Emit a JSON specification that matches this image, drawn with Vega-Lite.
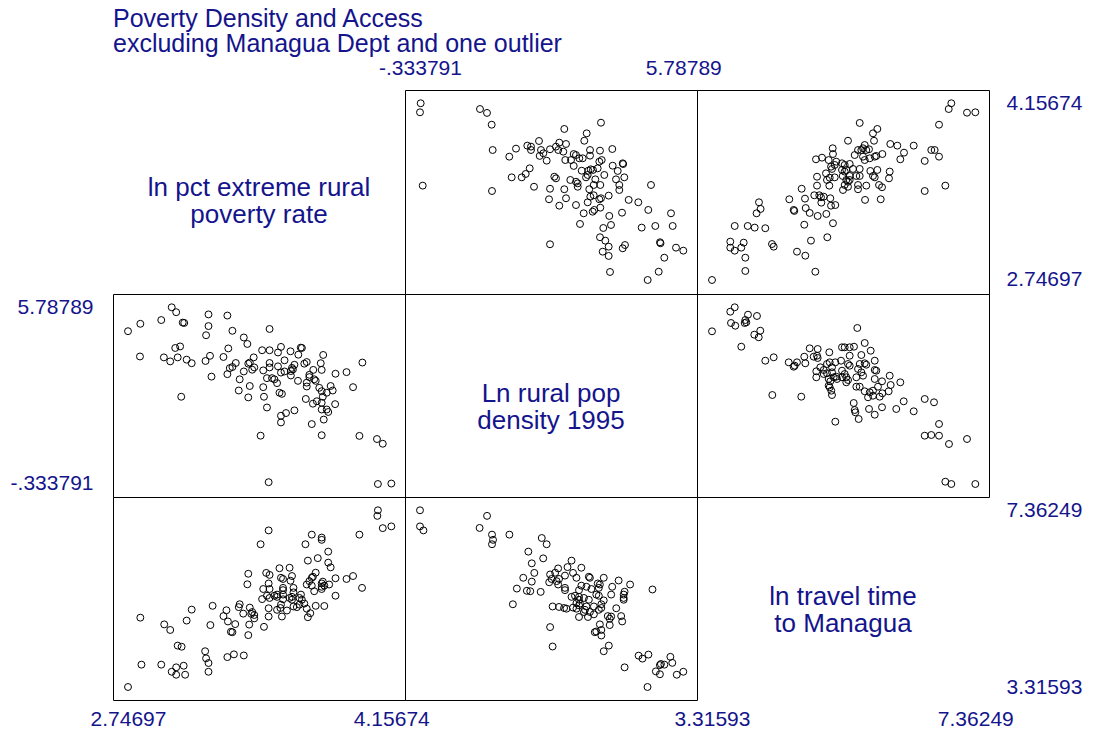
{
"$schema": "https://vega.github.io/schema/vega-lite/v6.json",
"autosize": "none",
"padding": {"left": 113, "top": 90, "right": 980, "bottom": 645},
"background": "white",
"title": {"text": ["Poverty Density and Access", "excluding Managua Dept and one outlier"], "anchor": "start", "frame": "group", "font": "Liberation Sans", "fontSize": 25, "fontWeight": "normal", "color": "#14148c", "lineHeight": 25, "offset": 0},
"config": {
  "view": {"stroke": null},
  "axis": {"domain": false, "ticks": false, "grid": false, "labelFont": "Liberation Sans", "labelFontSize": 21, "labelColor": "#14148c", "labelFlush": false, "labelOverlap": false},
  "point": {"shape": "circle", "filled": false, "color": "black", "strokeWidth": 1, "size": 48, "opacity": 1},
  "text": {"font": "Liberation Sans", "fontSize": 26, "color": "#14148c", "lineHeight": 27, "align": "center", "baseline": "middle"}
},
"datasets": {
  "ab": [
    {"dens": -0.318, "pov": 4.157}, {"dens": -0.334, "pov": 4.085}, {"dens": -0.271, "pov": 3.500}, {"dens": 1.061, "pov": 4.111},
    {"dens": 1.224, "pov": 4.080}, {"dens": 1.333, "pov": 3.986}, {"dens": 1.356, "pov": 3.784}, {"dens": 1.340, "pov": 3.457},
    {"dens": 1.898, "pov": 3.795}, {"dens": 1.742, "pov": 3.731}, {"dens": 2.161, "pov": 3.819}, {"dens": 2.247, "pov": 3.811},
    {"dens": 2.247, "pov": 3.784}, {"dens": 2.433, "pov": 3.856}, {"dens": 2.479, "pov": 3.784}, {"dens": 2.533, "pov": 3.758},
    {"dens": 2.449, "pov": 3.737}, {"dens": 2.612, "pov": 3.699}, {"dens": 2.217, "pov": 3.638}, {"dens": 2.124, "pov": 3.593},
    {"dens": 2.031, "pov": 3.566}, {"dens": 1.798, "pov": 3.566}, {"dens": 2.317, "pov": 3.491}, {"dens": 2.689, "pov": 3.790},
    {"dens": 2.689, "pov": 3.475}, {"dens": 2.666, "pov": 3.391}, {"dens": 2.689, "pov": 3.032}, {"dens": 3.874, "pov": 4.002},
    {"dens": 3.021, "pov": 3.952}, {"dens": 3.542, "pov": 3.917}, {"dens": 3.486, "pov": 3.858}, {"dens": 2.905, "pov": 3.843},
    {"dens": 3.061, "pov": 3.832}, {"dens": 2.828, "pov": 3.811}, {"dens": 2.881, "pov": 3.784}, {"dens": 2.998, "pov": 3.771},
    {"dens": 3.619, "pov": 3.784}, {"dens": 3.851, "pov": 3.779}, {"dens": 4.137, "pov": 3.792}, {"dens": 3.240, "pov": 3.752},
    {"dens": 3.293, "pov": 3.744}, {"dens": 3.370, "pov": 3.718}, {"dens": 3.449, "pov": 3.718}, {"dens": 3.044, "pov": 3.704},
    {"dens": 3.177, "pov": 3.704}, {"dens": 3.619, "pov": 3.739}, {"dens": 3.835, "pov": 3.691}, {"dens": 3.891, "pov": 3.704},
    {"dens": 4.146, "pov": 3.659}, {"dens": 4.379, "pov": 3.678}, {"dens": 4.390, "pov": 3.672}, {"dens": 3.240, "pov": 3.657},
    {"dens": 3.426, "pov": 3.619}, {"dens": 3.579, "pov": 3.619}, {"dens": 3.635, "pov": 3.630}, {"dens": 3.688, "pov": 3.625},
    {"dens": 3.797, "pov": 3.638}, {"dens": 3.951, "pov": 3.585}, {"dens": 4.263, "pov": 3.617}, {"dens": 4.416, "pov": 3.566},
    {"dens": 4.223, "pov": 3.550}, {"dens": 2.789, "pov": 3.571}, {"dens": 2.828, "pov": 3.558}, {"dens": 3.161, "pov": 3.545},
    {"dens": 3.293, "pov": 3.531}, {"dens": 3.333, "pov": 3.518}, {"dens": 3.526, "pov": 3.566}, {"dens": 3.565, "pov": 3.585},
    {"dens": 3.742, "pov": 3.550}, {"dens": 3.705, "pov": 3.505}, {"dens": 3.858, "pov": 3.505}, {"dens": 3.021, "pov": 3.471},
    {"dens": 3.333, "pov": 3.491}, {"dens": 3.602, "pov": 3.471}, {"dens": 4.300, "pov": 3.505}, {"dens": 4.300, "pov": 3.465},
    {"dens": 5.037, "pov": 3.505}, {"dens": 3.061, "pov": 3.399}, {"dens": 2.905, "pov": 3.340}, {"dens": 3.626, "pov": 3.412},
    {"dens": 3.705, "pov": 3.423}, {"dens": 3.835, "pov": 3.391}, {"dens": 3.874, "pov": 3.399}, {"dens": 4.053, "pov": 3.420},
    {"dens": 3.293, "pov": 3.345}, {"dens": 3.565, "pov": 3.367}, {"dens": 3.858, "pov": 3.324}, {"dens": 3.719, "pov": 3.306},
    {"dens": 3.681, "pov": 3.292}, {"dens": 3.472, "pov": 3.279}, {"dens": 4.518, "pov": 3.386}, {"dens": 4.742, "pov": 3.367},
    {"dens": 4.974, "pov": 3.306}, {"dens": 4.363, "pov": 3.284}, {"dens": 4.067, "pov": 3.258}, {"dens": 3.386, "pov": 3.194},
    {"dens": 4.107, "pov": 3.186}, {"dens": 3.928, "pov": 3.162}, {"dens": 4.820, "pov": 3.165}, {"dens": 5.137, "pov": 3.178},
    {"dens": 5.502, "pov": 3.279}, {"dens": 5.541, "pov": 3.178}, {"dens": 3.851, "pov": 3.088}, {"dens": 3.974, "pov": 3.061},
    {"dens": 4.053, "pov": 3.013}, {"dens": 4.432, "pov": 3.026}, {"dens": 4.379, "pov": 3.000}, {"dens": 5.246, "pov": 3.048},
    {"dens": 5.258, "pov": 3.040}, {"dens": 3.914, "pov": 2.973}, {"dens": 4.053, "pov": 2.939}, {"dens": 5.618, "pov": 3.005},
    {"dens": 5.788, "pov": 2.981}, {"dens": 5.346, "pov": 2.925}, {"dens": 4.084, "pov": 2.811}, {"dens": 5.216, "pov": 2.813},
    {"dens": 4.960, "pov": 2.747}
  ],
  "ac": [
    {"trav": 3.316, "pov": 2.747}, {"trav": 3.828, "pov": 2.819}, {"trav": 3.828, "pov": 2.925}, {"trav": 3.597, "pov": 3.053},
    {"trav": 3.597, "pov": 3.005}, {"trav": 3.665, "pov": 2.981}, {"trav": 3.766, "pov": 3.005}, {"trav": 3.803, "pov": 3.045},
    {"trav": 3.665, "pov": 3.178}, {"trav": 3.865, "pov": 3.178}, {"trav": 3.972, "pov": 3.165}, {"trav": 4.135, "pov": 3.160},
    {"trav": 4.238, "pov": 3.034}, {"trav": 4.264, "pov": 3.013}, {"trav": 4.001, "pov": 3.279}, {"trav": 4.063, "pov": 3.314},
    {"trav": 4.038, "pov": 3.367}, {"trav": 4.504, "pov": 3.391}, {"trav": 4.571, "pov": 3.306}, {"trav": 4.581, "pov": 3.298},
    {"trav": 4.622, "pov": 2.973}, {"trav": 4.750, "pov": 2.941}, {"trav": 4.904, "pov": 2.813}, {"trav": 4.837, "pov": 3.061},
    {"trav": 4.734, "pov": 3.188}, {"trav": 4.694, "pov": 3.475}, {"trav": 4.745, "pov": 3.396}, {"trav": 4.756, "pov": 3.321},
    {"trav": 4.817, "pov": 3.282}, {"trav": 4.888, "pov": 3.423}, {"trav": 4.965, "pov": 3.423}, {"trav": 4.991, "pov": 3.407},
    {"trav": 5.033, "pov": 3.412}, {"trav": 4.996, "pov": 3.364}, {"trav": 4.940, "pov": 3.258}, {"trav": 5.073, "pov": 3.274},
    {"trav": 5.175, "pov": 3.200}, {"trav": 5.088, "pov": 3.088}, {"trav": 5.134, "pov": 3.399}, {"trav": 5.145, "pov": 3.340},
    {"trav": 5.211, "pov": 3.345}, {"trav": 4.930, "pov": 3.500}, {"trav": 4.930, "pov": 3.571}, {"trav": 5.068, "pov": 3.598},
    {"trav": 5.083, "pov": 3.545}, {"trav": 5.119, "pov": 3.500}, {"trav": 5.125, "pov": 3.563}, {"trav": 5.202, "pov": 3.566},
    {"trav": 4.914, "pov": 3.710}, {"trav": 5.006, "pov": 3.723}, {"trav": 5.109, "pov": 3.704}, {"trav": 5.160, "pov": 3.633},
    {"trav": 5.145, "pov": 3.651}, {"trav": 5.171, "pov": 3.798}, {"trav": 5.175, "pov": 3.752}, {"trav": 5.226, "pov": 3.691},
    {"trav": 5.202, "pov": 3.665}, {"trav": 5.314, "pov": 3.678}, {"trav": 5.314, "pov": 3.625}, {"trav": 5.325, "pov": 3.577},
    {"trav": 6.994, "pov": 4.157}, {"trav": 6.954, "pov": 4.111}, {"trav": 7.235, "pov": 4.082}, {"trav": 7.363, "pov": 4.085},
    {"trav": 6.805, "pov": 3.986}, {"trav": 5.586, "pov": 4.000}, {"trav": 5.857, "pov": 3.952}, {"trav": 5.790, "pov": 3.917},
    {"trav": 5.806, "pov": 3.858}, {"trav": 5.406, "pov": 3.858}, {"trav": 6.056, "pov": 3.832}, {"trav": 6.164, "pov": 3.819},
    {"trav": 6.416, "pov": 3.819}, {"trav": 6.267, "pov": 3.763}, {"trav": 6.210, "pov": 3.710}, {"trav": 5.934, "pov": 3.752},
    {"trav": 6.686, "pov": 3.784}, {"trav": 6.738, "pov": 3.784}, {"trav": 6.805, "pov": 3.731}, {"trav": 6.585, "pov": 3.697},
    {"trav": 5.560, "pov": 3.784}, {"trav": 5.611, "pov": 3.784}, {"trav": 5.637, "pov": 3.798}, {"trav": 5.687, "pov": 3.784},
    {"trav": 5.729, "pov": 3.790}, {"trav": 5.663, "pov": 3.824}, {"trav": 5.509, "pov": 3.744}, {"trav": 5.637, "pov": 3.731},
    {"trav": 5.663, "pov": 3.704}, {"trav": 5.740, "pov": 3.718}, {"trav": 5.817, "pov": 3.731}, {"trav": 5.841, "pov": 3.737},
    {"trav": 5.355, "pov": 3.665}, {"trav": 5.432, "pov": 3.673}, {"trav": 5.483, "pov": 3.633}, {"trav": 5.586, "pov": 3.633},
    {"trav": 5.355, "pov": 3.612}, {"trav": 5.380, "pov": 3.625}, {"trav": 5.432, "pov": 3.577}, {"trav": 5.534, "pov": 3.577},
    {"trav": 5.586, "pov": 3.577}, {"trav": 5.749, "pov": 3.617}, {"trav": 5.857, "pov": 3.625}, {"trav": 5.790, "pov": 3.577},
    {"trav": 5.817, "pov": 3.566}, {"trav": 6.047, "pov": 3.612}, {"trav": 6.036, "pov": 3.558}, {"trav": 5.380, "pov": 3.545},
    {"trav": 5.406, "pov": 3.531}, {"trav": 5.432, "pov": 3.545}, {"trav": 5.355, "pov": 3.505}, {"trav": 5.406, "pov": 3.491},
    {"trav": 5.560, "pov": 3.505}, {"trav": 5.560, "pov": 3.471}, {"trav": 5.687, "pov": 3.500}, {"trav": 5.883, "pov": 3.505},
    {"trav": 5.929, "pov": 3.487}, {"trav": 5.329, "pov": 3.465}, {"trav": 5.668, "pov": 3.386}, {"trav": 5.909, "pov": 3.391},
    {"trav": 6.585, "pov": 3.457}, {"trav": 6.902, "pov": 3.500}
  ],
  "bc": [
    {"trav": 3.316, "dens": 4.956}, {"trav": 3.665, "dens": 5.788}, {"trav": 3.597, "dens": 5.636}, {"trav": 3.608, "dens": 5.244},
    {"trav": 3.674, "dens": 5.150}, {"trav": 3.869, "dens": 5.532}, {"trav": 3.828, "dens": 5.348}, {"trav": 3.818, "dens": 5.244},
    {"trav": 3.843, "dens": 5.268}, {"trav": 4.007, "dens": 5.487}, {"trav": 4.058, "dens": 4.977}, {"trav": 3.966, "dens": 4.839},
    {"trav": 4.034, "dens": 4.749}, {"trav": 3.766, "dens": 4.423}, {"trav": 4.135, "dens": 3.938}, {"trav": 4.264, "dens": 4.056},
    {"trav": 4.243, "dens": 2.749}, {"trav": 4.688, "dens": 2.691}, {"trav": 4.495, "dens": 3.882}, {"trav": 4.571, "dens": 3.730},
    {"trav": 4.587, "dens": 3.765}, {"trav": 4.622, "dens": 3.882}, {"trav": 4.734, "dens": 4.077}, {"trav": 4.750, "dens": 3.848},
    {"trav": 4.817, "dens": 4.367}, {"trav": 4.879, "dens": 4.077}, {"trav": 4.930, "dens": 4.111}, {"trav": 4.940, "dens": 4.032},
    {"trav": 4.940, "dens": 4.343}, {"trav": 5.119, "dens": 4.229}, {"trav": 5.314, "dens": 4.402}, {"trav": 5.083, "dens": 3.824},
    {"trav": 5.125, "dens": 3.882}, {"trav": 5.211, "dens": 3.882}, {"trav": 4.919, "dens": 3.571}, {"trav": 4.919, "dens": 3.363},
    {"trav": 4.980, "dens": 3.709}, {"trav": 5.033, "dens": 3.616}, {"trav": 5.033, "dens": 3.477}, {"trav": 5.083, "dens": 3.502},
    {"trav": 5.160, "dens": 3.709}, {"trav": 5.160, "dens": 3.536}, {"trav": 5.186, "dens": 3.363}, {"trav": 5.226, "dens": 3.384},
    {"trav": 5.237, "dens": 3.304}, {"trav": 5.109, "dens": 3.304}, {"trav": 5.134, "dens": 3.224}, {"trav": 5.109, "dens": 3.072},
    {"trav": 5.125, "dens": 3.016}, {"trav": 5.149, "dens": 2.899}, {"trav": 5.160, "dens": 2.749}, {"trav": 5.211, "dens": 1.825},
    {"trav": 5.299, "dens": 3.938}, {"trav": 5.314, "dens": 3.592}, {"trav": 5.314, "dens": 3.363}, {"trav": 5.549, "dens": 5.071},
    {"trav": 5.663, "dens": 4.551}, {"trav": 5.755, "dens": 4.284}, {"trav": 5.355, "dens": 4.402}, {"trav": 5.432, "dens": 4.402},
    {"trav": 5.498, "dens": 4.423}, {"trav": 5.432, "dens": 4.111}, {"trav": 5.611, "dens": 4.135}, {"trav": 5.817, "dens": 3.938},
    {"trav": 5.406, "dens": 3.824}, {"trav": 5.432, "dens": 3.765}, {"trav": 5.586, "dens": 3.824}, {"trav": 5.663, "dens": 3.848},
    {"trav": 5.687, "dens": 3.799}, {"trav": 5.560, "dens": 3.651}, {"trav": 5.611, "dens": 3.536}, {"trav": 5.817, "dens": 3.616},
    {"trav": 5.841, "dens": 3.592}, {"trav": 5.355, "dens": 3.477}, {"trav": 5.380, "dens": 3.363}, {"trav": 5.406, "dens": 3.269},
    {"trav": 5.380, "dens": 3.189}, {"trav": 5.534, "dens": 3.363}, {"trav": 5.637, "dens": 3.418}, {"trav": 5.817, "dens": 3.304},
    {"trav": 5.929, "dens": 3.224}, {"trav": 6.047, "dens": 3.418}, {"trav": 6.062, "dens": 3.096}, {"trav": 6.031, "dens": 2.878},
    {"trav": 6.210, "dens": 3.189}, {"trav": 5.534, "dens": 3.037}, {"trav": 5.586, "dens": 3.037}, {"trav": 5.663, "dens": 2.878},
    {"trav": 5.740, "dens": 2.843}, {"trav": 5.790, "dens": 2.899}, {"trav": 5.867, "dens": 3.037}, {"trav": 5.714, "dens": 2.670},
    {"trav": 5.790, "dens": 2.725}, {"trav": 5.893, "dens": 2.691}, {"trav": 5.934, "dens": 2.809}, {"trav": 5.494, "dens": 2.472},
    {"trav": 5.509, "dens": 2.230}, {"trav": 5.519, "dens": 2.150}, {"trav": 5.570, "dens": 1.918}, {"trav": 5.729, "dens": 2.265},
    {"trav": 5.817, "dens": 2.067}, {"trav": 5.929, "dens": 2.324}, {"trav": 6.148, "dens": 2.265}, {"trav": 6.262, "dens": 2.531},
    {"trav": 6.416, "dens": 2.185}, {"trav": 6.585, "dens": 2.611}, {"trav": 6.728, "dens": 2.497}, {"trav": 6.805, "dens": 1.745},
    {"trav": 6.585, "dens": 1.340}, {"trav": 6.686, "dens": 1.364}, {"trav": 6.805, "dens": 1.340}, {"trav": 6.958, "dens": 1.052},
    {"trav": 7.235, "dens": 1.225}, {"trav": 6.902, "dens": -0.254}, {"trav": 6.994, "dens": -0.334}, {"trav": 7.363, "dens": -0.334}
  ],
  "labA": [{"label": ["ln pct extreme rural", "poverty rate"]}],
  "labB": [{"label": ["Ln rural pop", "density 1995"]}],
  "labC": [{"label": ["ln travel time", "to Managua"]}]
},
"columns": 3,
"spacing": 0,
"bounds": "flush",
"concat": [
    {"width": 292, "height": 204, "data": {"name": "labA"},
     "mark": {"type": "text", "dy": -4},
     "encoding": {
       "x": {"datum": 3.44838, "type": "quantitative", "scale": {"domain": [2.66666, 4.23009], "nice": false, "zero": false}, "axis": null},
       "y": {"datum": 3.44906, "type": "quantitative", "scale": {"domain": [2.63527, 4.26285], "nice": false, "zero": false}, "axis": null},
       "text": {"field": "label"}}},
    {"width": 292, "height": 204, "data": {"name": "ab"}, "view": {"stroke": "black"},
     "mark": "point",
     "encoding": {
       "x": {"field": "dens", "type": "quantitative", "scale": {"domain": [-0.68254, 6.10642], "nice": false, "zero": false},
             "axis": {"orient": "top", "values": [-0.333791, 5.78789], "labelExpr": "datum.value < 0 ? '-.333791' : '5.78789'", "labelPadding": 12, "title": null}},
       "y": {"field": "pov", "type": "quantitative", "scale": {"domain": [2.63527, 4.26285], "nice": false, "zero": false}, "axis": null}}},
    {"width": 292, "height": 204, "data": {"name": "ac"}, "view": {"stroke": "black"},
     "mark": "point",
     "encoding": {
       "x": {"field": "trav", "type": "quantitative", "scale": {"domain": [3.08539, 7.57305], "nice": false, "zero": false}, "axis": null},
       "y": {"field": "pov", "type": "quantitative", "scale": {"domain": [2.63527, 4.26285], "nice": false, "zero": false},
             "axis": {"orient": "right", "values": [2.74697, 4.15674], "labelExpr": "format(datum.value, '.6~g')", "labelPadding": 17, "title": null}}}},
    {"width": 292, "height": 203, "data": {"name": "ab"}, "view": {"stroke": "black"},
     "mark": "point",
     "encoding": {
       "x": {"field": "pov", "type": "quantitative", "scale": {"domain": [2.66666, 4.23009], "nice": false, "zero": false}, "axis": null},
       "y": {"field": "dens", "type": "quantitative", "scale": {"domain": [-0.78418, 6.24867], "nice": false, "zero": false},
             "axis": {"orient": "left", "values": [-0.333791, 5.78789], "labelExpr": "datum.value < 0 ? '-.333791' : '5.78789'", "labelPadding": 20, "title": null}}}},
    {"width": 292, "height": 203, "data": {"name": "labB"},
     "mark": {"type": "text", "dy": -1},
     "encoding": {
       "x": {"datum": 2.71194, "type": "quantitative", "scale": {"domain": [-0.68254, 6.10642], "nice": false, "zero": false}, "axis": null},
       "y": {"datum": 2.73225, "type": "quantitative", "scale": {"domain": [-0.78418, 6.24867], "nice": false, "zero": false}, "axis": null},
       "text": {"field": "label"}}},
    {"width": 292, "height": 203, "data": {"name": "bc"}, "view": {"stroke": "black"},
     "mark": "point",
     "encoding": {
       "x": {"field": "trav", "type": "quantitative", "scale": {"domain": [3.08539, 7.57305], "nice": false, "zero": false}, "axis": null},
       "y": {"field": "dens", "type": "quantitative", "scale": {"domain": [-0.78418, 6.24867], "nice": false, "zero": false}, "axis": null}}},
    {"width": 292, "height": 203, "data": {"name": "ac"}, "view": {"stroke": "black"},
     "mark": "point",
     "encoding": {
       "x": {"field": "pov", "type": "quantitative", "scale": {"domain": [2.66666, 4.23009], "nice": false, "zero": false},
             "axis": {"orient": "bottom", "values": [2.74697, 4.15674], "labelExpr": "format(datum.value, '.6~g')", "labelPadding": 8, "title": null}},
       "y": {"field": "trav", "type": "quantitative", "scale": {"domain": [3.01822, 7.66707], "nice": false, "zero": false}, "axis": null}}},
    {"width": 292, "height": 203, "data": {"name": "bc"}, "view": {"stroke": "black"},
     "mark": "point",
     "encoding": {
       "x": {"field": "dens", "type": "quantitative", "scale": {"domain": [-0.68254, 6.10642], "nice": false, "zero": false}, "axis": null},
       "y": {"field": "trav", "type": "quantitative", "scale": {"domain": [3.01822, 7.66707], "nice": false, "zero": false}, "axis": null}}},
    {"width": 292, "height": 203, "data": {"name": "labC"},
     "mark": {"type": "text", "dy": -1},
     "encoding": {
       "x": {"datum": 5.32922, "type": "quantitative", "scale": {"domain": [3.08539, 7.57305], "nice": false, "zero": false},
             "axis": {"orient": "bottom", "values": [3.31593, 7.36249], "labelExpr": "format(datum.value, '.6~g')", "labelPadding": 8, "title": null}},
       "y": {"datum": 5.34265, "type": "quantitative", "scale": {"domain": [3.01822, 7.66707], "nice": false, "zero": false},
             "axis": {"orient": "right", "values": [3.31593, 7.36249], "labelExpr": "format(datum.value, '.6~g')", "labelPadding": 17, "title": null}},
       "text": {"field": "label"}}}
]
}
